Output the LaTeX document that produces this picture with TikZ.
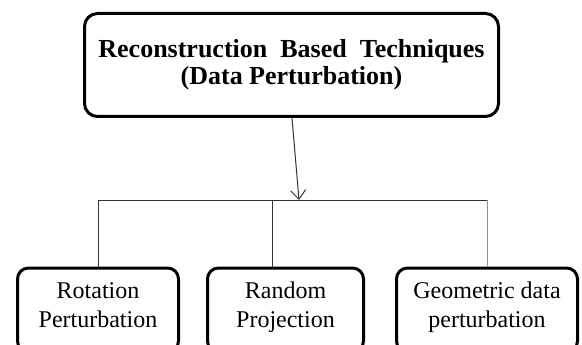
\documentclass[tikz,border=0pt]{standalone}
\usepackage{fontspec}
\setmainfont{Liberation Serif}
\usetikzlibrary{arrows.meta}

\newcommand{\lowpad}{\rule[-15.3pt]{0pt}{1pt}}

\begin{document}
\begin{tikzpicture}[x=1pt, y=-1pt,
    bigbox/.style={draw, line width=3pt, rounded corners=13pt, inner sep=0pt,
        align=center, font=\fontsize{26}{27}\selectfont\bfseries},
    leafbox/.style={draw, line width=3pt, rounded corners=11pt, inner sep=0pt,
        align=center, font=\fontsize{24}{29}\selectfont},
    link/.style={line width=1pt, draw=black!80}]
            \definecolor{cl1}{HTML}{6F95C8}
            \useasboundingbox (0,0) rectangle (582,345);
            \clip (0,0) rectangle (582,345);
            % top box
            \node[bigbox, minimum width=414pt, minimum height=103pt] (top) at (291.5,65)
                {Reconstruction\ \ Based\ \ Techniques\\(Data Perturbation)};
            % leaves
            \node[leafbox, minimum width=161pt, minimum height=84pt] (rot) at (98,310)
                {\strut Rotation\\Perturbation\lowpad};
            \node[leafbox, minimum width=156pt, minimum height=84pt] (rnd) at (285.5,310)
                {\strut Random\\Projection\lowpad};
            \node[leafbox, minimum width=181pt, minimum height=84pt] (geo) at (487,310)
                {\strut Geometric data\\perturbation\lowpad};
            % bus
            \coordinate (hub) at (299,200);
            \coordinate (mid) at (272,200);
            \draw[link, -{Straight Barb[length=9pt, width=15pt]}] (top.south -| 292,0) -- (hub);
            \draw[link] (rot.north) |- (geo.north |- hub);
            \draw[link] (mid) -- (mid |- rnd.north);
            \draw[line width=1pt, draw=cl1] (geo.north |- hub) -- (geo.north);
\end{tikzpicture}
\end{document}
